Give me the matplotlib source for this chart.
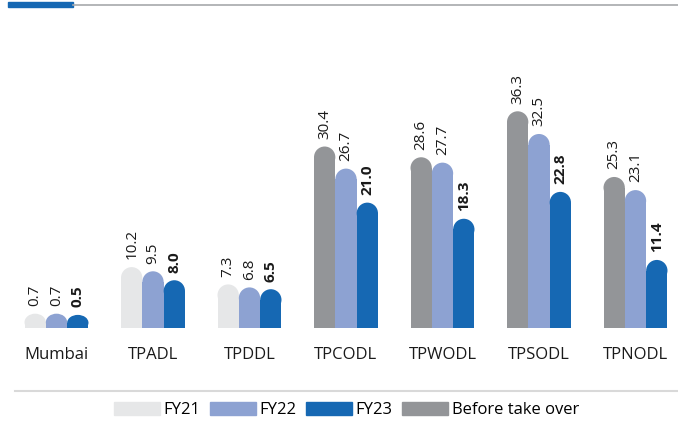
import matplotlib.pyplot as plt
from matplotlib.patches import Ellipse, Patch, Rectangle
from matplotlib.lines import Line2D

plt.rcParams['font.family'] = ['Open Sans', 'DejaVu Sans']

# data
companies = ['Mumbai', 'TPADL', 'TPDDL', 'TPCODL', 'TPWODL', 'TPSODL', 'TPNODL']
first_series = ['FY21', 'FY21', 'FY21', 'Before take over', 'Before take over',
                'Before take over', 'Before take over']
first_vals = [0.7, 10.2, 7.3, 30.4, 28.6, 36.3, 25.3]
fy22 = [0.7, 9.5, 6.8, 26.7, 27.7, 32.5, 23.1]
fy23 = [0.5, 8.0, 6.5, 21.0, 18.3, 22.8, 11.4]

colors = {'FY21': '#e6e7e8', 'FY22': '#8da2d2',
          'FY23': '#1668b3', 'Before take over': '#939598'}

W, H = 678, 423
fig = plt.figure(figsize=(W / 100, H / 100), dpi=100)

# axes placed in pixels so the rounded caps can be made circular
px_unit_x = 96.5
px_unit_y = 5.97
x0_pix = 56.5
base_pix = 95  # baseline from bottom
ax = fig.add_axes([0, base_pix / H, 1, (H - base_pix) / H])
ax.set_xlim(-x0_pix / px_unit_x, (W - x0_pix) / px_unit_x)
ax.set_ylim(0, (H - base_pix) / px_unit_y)
ax.axis('off')

bw = 0.221
r_y = (bw * px_unit_x / 2) / px_unit_y   # cap radius in y units


def rounded_bar(x, v, color, bold):
    drawn = v if v >= r_y else v + r_y * 0.95
    cap = min(r_y, 0.6 * drawn)
    ax.bar(x, drawn - cap, width=bw, color=color, linewidth=0)
    ax.add_patch(Ellipse((x, drawn - cap), bw, 2 * cap, color=color, lw=0))
    ax.annotate(f'{v:.1f}', (x, drawn), xytext=(0, 5.5), textcoords='offset points',
                rotation=90, ha='center', va='bottom', fontsize=11,
                fontweight='bold' if bold else 'normal', color='#1a1a1a')


for i, name in enumerate(companies):
    rounded_bar(i - bw, first_vals[i], colors[first_series[i]], False)
    rounded_bar(i, fy22[i], colors['FY22'], False)
    rounded_bar(i + bw, fy23[i], colors['FY23'], True)
    ax.text(i, -27 / px_unit_y, name, ha='center', va='center', fontsize=12,
            color='#1a1a1a', clip_on=False)

# decorative lines
fig.add_artist(Line2D([73 / W, 1], [418 / H, 418 / H], color='#a7a9ac', lw=1.2))
fig.add_artist(Rectangle((8 / W, 416 / H), 65 / W, 5 / H, color='#1668b3',
                         transform=fig.transFigure))
fig.add_artist(Line2D([15 / W, 1], [32 / H, 32 / H], color='#d9d9d9', lw=1.5))

handles = [Patch(color=colors[k]) for k in ['FY21', 'FY22', 'FY23', 'Before take over']]
fig.legend(handles, ['FY21', 'FY22', 'FY23', 'Before take over'], loc='center',
           bbox_to_anchor=(346.5 / W, 13 / H), ncol=4, frameon=False,
           fontsize=12, handlelength=2.75, handleheight=0.85,
           handletextpad=0.2, columnspacing=0.6, borderpad=0)

fig.savefig('out.png', dpi=100)
